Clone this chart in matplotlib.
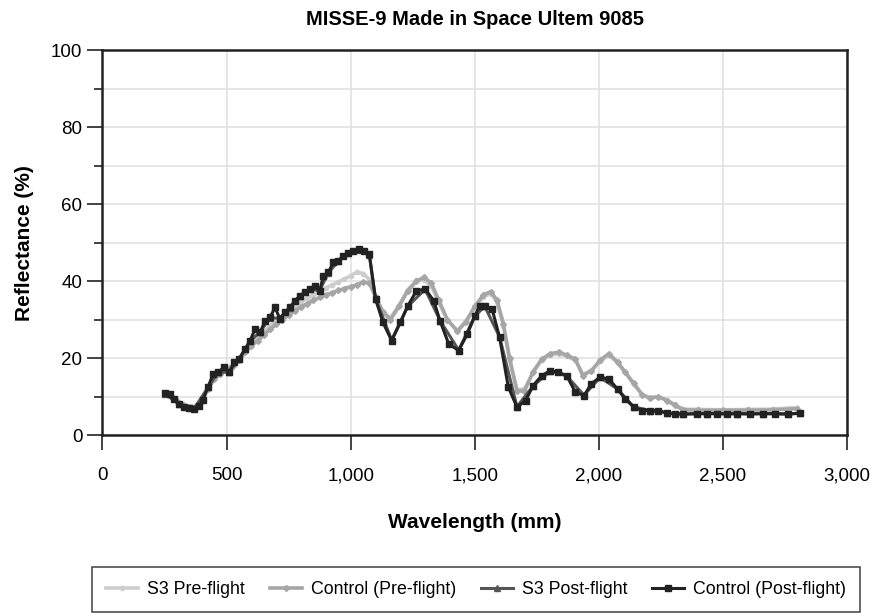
import matplotlib.pyplot as plt
from matplotlib.ticker import MultipleLocator, FuncFormatter

plt.rcParams['font.family'] = ['Liberation Sans', 'DejaVu Sans']

# Control (Post-flight)
ctrl_post_x = [250, 270, 290, 310, 330, 350, 370, 390, 405, 425, 445, 465, 490, 510, 530, 550,
               575, 595, 615, 635, 655, 675, 695, 715, 735, 755, 775, 795, 815, 835, 855, 875,
               890, 910, 930, 950, 970, 990, 1010, 1035, 1055, 1075, 1100, 1130, 1165, 1200,
               1230, 1265, 1300, 1335, 1360, 1395, 1435, 1470, 1500, 1520, 1540, 1570, 1600,
               1635, 1670, 1705, 1735, 1770, 1805, 1835, 1870, 1905, 1940, 1970, 2005, 2040,
               2075, 2105, 2140, 2175, 2205, 2240, 2275, 2305, 2340, 2395, 2435, 2475, 2515,
               2555, 2610, 2660, 2710, 2760, 2810]
ctrl_post_y = [10.9, 10.6, 9.4, 8.0, 7.3, 7.0, 6.9, 7.6, 9.2, 12.5, 15.8, 16.4, 17.6, 16.3, 18.9, 19.8,
               22.4, 24.6, 27.6, 26.7, 29.7, 30.6, 33.2, 30.2, 31.9, 33.2, 34.9, 36.2, 37.1, 38.0, 38.8, 37.5,
               41.4, 42.3, 44.9, 45.3, 46.6, 47.4, 47.9, 48.3, 47.9, 47.0, 35.4, 29.3, 24.6, 29.3,
               33.6, 37.5, 38.0, 34.9, 29.7, 23.7, 22.0, 26.3, 31.0, 33.6, 33.6, 32.7, 25.4,
               12.5, 7.3, 9.0, 12.9, 15.5, 16.8, 16.4, 15.5, 11.2, 10.3, 13.4, 15.1, 14.6,
               12.0, 9.5, 7.3, 6.4, 6.4, 6.4, 5.8, 5.5, 5.5, 5.6, 5.6, 5.6, 5.5,
               5.6, 5.5, 5.6, 5.6, 5.5, 5.7]

# S3 Post-flight (hidden beneath the control post-flight curve)
s3_post_x = [250, 310, 370, 425, 465, 510, 550, 595, 635, 675, 715, 755, 795, 835, 875, 910,
             950, 990, 1035, 1075, 1100, 1165, 1230, 1300, 1360, 1435, 1500, 1540, 1600, 1670,
             1735, 1805, 1870, 1940, 2005, 2075, 2140, 2205, 2275, 2340, 2435, 2555, 2660, 2760, 2810]
s3_post_y = [10.8, 8.0, 7.0, 12.4, 16.3, 16.4, 19.7, 24.5, 26.8, 30.5, 30.4, 33.1, 36.1, 37.9, 37.6, 42.2,
             45.2, 47.3, 48.2, 46.9, 35.5, 24.7, 33.5, 37.9, 29.8, 22.1, 30.9, 33.5, 25.5, 7.4,
             12.8, 16.7, 15.4, 10.4, 15.0, 12.0, 7.4, 6.4, 5.8, 5.5, 5.6, 5.6, 5.6, 5.5, 5.7]

# Control (Pre-flight)
ctrl_pre_x = [250, 275, 300, 325, 350, 375, 400, 425, 450, 475, 500, 525, 550, 575, 600, 625,
              650, 675, 700, 725, 750, 775, 800, 825, 850, 875, 900, 925, 950, 975, 1000, 1025,
              1050, 1075, 1100, 1130, 1160, 1195, 1230, 1265, 1295, 1325, 1355, 1390, 1430, 1465,
              1500, 1535, 1565, 1590, 1615, 1640, 1670, 1700, 1735, 1770, 1805, 1840, 1870, 1905,
              1935, 1970, 2005, 2040, 2075, 2105, 2140, 2175, 2205, 2240, 2275, 2305, 2340, 2400,
              2500, 2600, 2700, 2800]
ctrl_pre_y = [10.8, 10.3, 8.8, 7.8, 7.4, 7.4, 9.0, 12.0, 14.5, 15.8, 17.0, 18.0, 19.5, 21.5, 23.3, 24.5,
              26.0, 27.5, 28.8, 30.0, 31.3, 32.3, 33.3, 34.2, 35.0, 35.8, 36.5, 37.0, 37.6, 38.1, 38.6, 39.1,
              39.8, 39.5, 36.0, 32.0, 30.0, 33.5, 37.5, 40.0, 41.0, 39.5, 35.0, 30.0, 27.0, 29.5,
              33.5, 36.5, 37.3, 35.0, 29.0, 20.0, 11.5, 11.5, 16.5, 19.8, 21.2, 21.6, 20.8, 19.8,
              15.5, 16.8, 19.5, 21.2, 19.0, 16.5, 13.5, 10.5, 9.6, 10.0, 9.0, 7.8, 6.6, 6.5,
              6.5, 6.5, 6.6, 6.9]

# S3 Pre-flight
s3_pre_x = ctrl_pre_x
s3_pre_y = [11.0, 10.5, 9.0, 8.0, 7.5, 7.5, 9.2, 12.3, 14.8, 16.0, 17.2, 18.3, 19.8, 21.8, 23.8, 25.2,
            26.8, 28.3, 29.8, 31.0, 32.3, 33.5, 34.6, 35.6, 36.5, 37.4, 38.3, 39.0, 39.8, 40.6, 41.4, 42.4,
            42.0, 40.5, 36.0, 32.0, 30.5, 33.8, 37.8, 40.2, 40.3, 38.8, 34.5, 29.8, 27.2, 29.8,
            33.2, 36.0, 36.8, 34.5, 28.5, 19.5, 11.8, 12.0, 16.3, 19.5, 20.8, 21.2, 20.5, 19.5,
            15.8, 16.8, 19.2, 20.8, 18.8, 16.3, 13.2, 10.5, 9.8, 10.0, 9.2, 8.0, 6.8, 6.7,
            6.6, 6.7, 6.8, 7.2]

fig = plt.figure(figsize=(8.76, 6.13), dpi=100)
ax = fig.add_axes([0.117, 0.290, 0.850, 0.628])

ax.plot(s3_pre_x, s3_pre_y, color='#cdcdcd', lw=2.6, marker='o', ms=3, label='S3 Pre-flight', zorder=3)
ax.plot(ctrl_pre_x, ctrl_pre_y, color='#a6a6a6', lw=2.6, marker='D', ms=3, label='Control (Pre-flight)', zorder=3)
ax.plot(s3_post_x, s3_post_y, color='#555555', lw=2.2, marker='^', ms=5, label='S3 Post-flight', zorder=4)
ax.plot(ctrl_post_x, ctrl_post_y, color='#222222', lw=2.2, marker='s', ms=5, label='Control (Post-flight)', zorder=5)

ax.set_xlim(0, 3000)
ax.set_ylim(0, 100)
ax.xaxis.set_major_locator(MultipleLocator(500))
ax.yaxis.set_major_locator(MultipleLocator(20))
ax.yaxis.set_minor_locator(MultipleLocator(10))
ax.xaxis.set_major_formatter(FuncFormatter(lambda v, p: f'{int(v):,}'))
ax.grid(True, which='both', color='#e2e2e2', lw=1.2, zorder=0)
ax.set_axisbelow(True)
ax.tick_params(axis='both', which='major', labelsize=13.5, length=11, width=1.2, color='#222222')
ax.tick_params(axis='y', which='minor', length=6, width=1.2, color='#222222')
ax.tick_params(axis='x', pad=12)
for s in ax.spines.values():
    s.set_color('#222222')
    s.set_linewidth(1.8)

ax.set_title('MISSE-9 Made in Space Ultem 9085', fontsize=14.5, fontweight='bold', pad=18)
ax.set_xlabel('Wavelength (mm)', fontsize=15, fontweight='bold', labelpad=21)
ax.set_ylabel('Reflectance (%)', fontsize=15, fontweight='bold', labelpad=12)

leg = fig.legend(loc='upper left', bbox_to_anchor=(0.105, 0.075, 0.877, 0.0), mode='expand',
                 ncol=4, fontsize=12.8, frameon=True, fancybox=False, handlelength=1.8,
                 borderaxespad=0, borderpad=0.8, handletextpad=0.5)
leg.get_frame().set_edgecolor('#222222')
leg.get_frame().set_linewidth(1.2)

fig.savefig('out.png', dpi=100)
